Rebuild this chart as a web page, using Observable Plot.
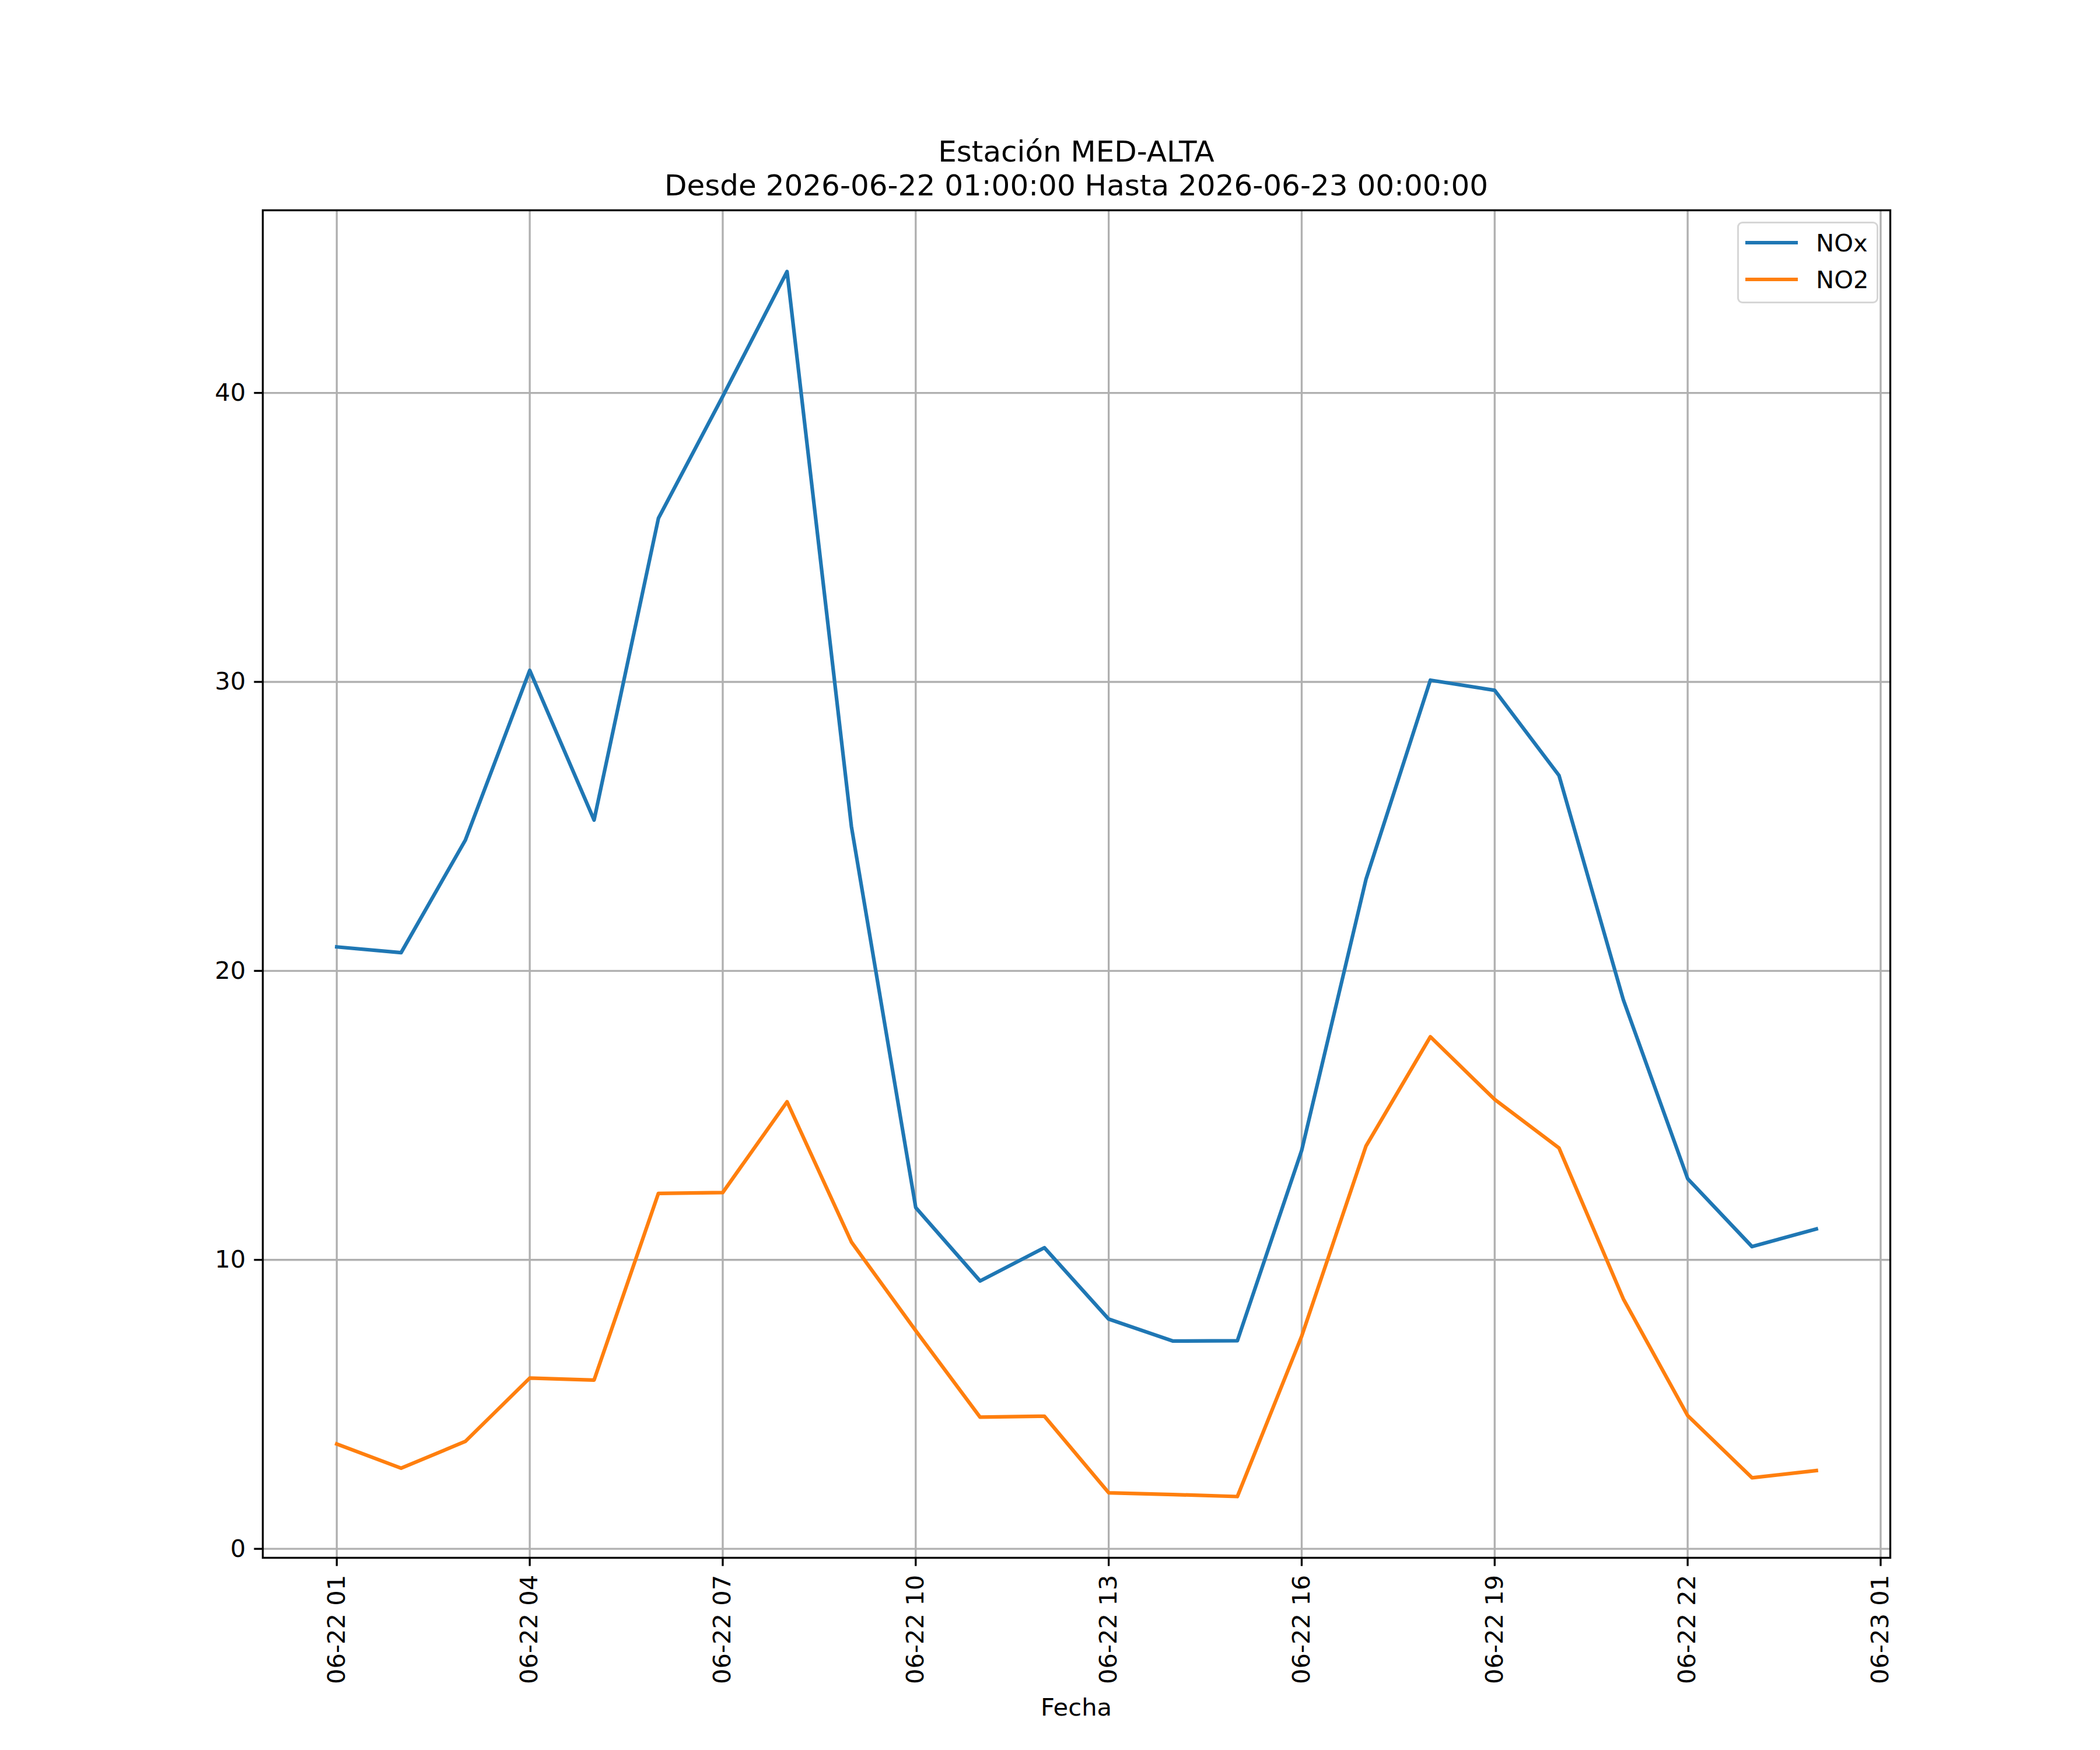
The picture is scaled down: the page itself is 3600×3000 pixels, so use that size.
<!DOCTYPE html>
<html>
<head>
<meta charset="utf-8">
<script src="https://cdn.jsdelivr.net/npm/d3@7"></script>
<script src="https://cdn.jsdelivr.net/npm/@observablehq/plot@0.6"></script>
<style>
  html, body { margin: 0; padding: 0; background: #fff; }
  #wrap { position: relative; width: 3600px; height: 3000px; background: #fff;
          font-family: "DejaVu Sans", sans-serif; color: #000; overflow: hidden; }
  #wrap svg { position: absolute; left: 0; top: 0; }
  .ttl { position: absolute; left: 1845px; transform: translateX(-50%); white-space: nowrap;
         font-size: 50px; line-height: 58px; }
  .xlab { position: absolute; left: 1845px; transform: translateX(-50%); white-space: nowrap;
          font-size: 41.67px; line-height: 48.5px; top: 2903px; }
  #legend { position: absolute; left: 2978px; top: 380px; width: 242px; height: 140px;
            box-sizing: border-box; border: 3.33px solid #d6d6d6; border-radius: 9px; background: #fff; }
  .lgline { position: absolute; left: 2992px; width: 90px; height: 6.25px; }
  .lgtext { position: absolute; left: 3113px; font-size: 41.67px; line-height: 50px; white-space: nowrap; }
</style>
</head>
<body>
<div id="wrap"></div>
<script>
// ---- data ----
const hours = [
  "2026-06-22T01:00", "2026-06-22T02:00", "2026-06-22T03:00", "2026-06-22T04:00",
  "2026-06-22T05:00", "2026-06-22T06:00", "2026-06-22T07:00", "2026-06-22T08:00",
  "2026-06-22T09:00", "2026-06-22T10:00", "2026-06-22T11:00", "2026-06-22T12:00",
  "2026-06-22T13:00", "2026-06-22T14:00", "2026-06-22T15:00", "2026-06-22T16:00",
  "2026-06-22T17:00", "2026-06-22T18:00", "2026-06-22T19:00", "2026-06-22T20:00",
  "2026-06-22T21:00", "2026-06-22T22:00", "2026-06-22T23:00", "2026-06-23T00:00"
];
const noxValues = [
  20.83, 20.63, 24.53, 30.40, 25.22, 35.66, 39.88, 44.20,
  25.00, 11.81, 9.27, 10.42, 7.95, 7.19, 7.20, 13.79,
  23.17, 30.06, 29.71, 26.76, 19.00, 12.81, 10.46, 11.07
];
const no2Values = [
  3.63, 2.79, 3.72, 5.91, 5.84, 12.30, 12.33, 15.47,
  10.62, 7.55, 4.56, 4.59, 1.94, 1.88, 1.81, 7.36,
  13.94, 17.72, 15.55, 13.87, 8.65, 4.61, 2.46, 2.71
];
const seriesNames = ["NOx", "NO2"];
const seriesColors = ["#1f77b4", "#ff7f0e"];
const yTicks = [0, 10, 20, 30, 40];
const xTickStamps = [
  "2026-06-22T01:00", "2026-06-22T04:00", "2026-06-22T07:00", "2026-06-22T10:00",
  "2026-06-22T13:00", "2026-06-22T16:00", "2026-06-22T19:00", "2026-06-22T22:00",
  "2026-06-23T01:00"
];
const titleText = "Estación MED-ALTA";
const subtitleText = "Desde 2026-06-22 01:00:00 Hasta 2026-06-23 00:00:00";
const xLabelText = "Fecha";

// ---- build ----
const parse = s => new Date(s + ":00Z");
const dates = hours.map(parse);
const xTicks = xTickStamps.map(parse);
const seriesValues = [noxValues, no2Values];
const rows = [];
seriesNames.forEach((name, k) => {
  dates.forEach((d, i) => rows.push({date: d, value: seriesValues[k][i], series: name}));
});

const [t0, t1] = d3.extent(dates, d => +d);
const tSpan = t1 - t0;
const xDomain = [new Date(t0 - 0.05 * tSpan), new Date(t1 + 0.05 * tSpan)];
const [v0, v1] = d3.extent(rows, r => r.value);
const vSpan = v1 - v0;
const yDomain = [v0 - 0.05 * vSpan, v1 + 0.05 * vSpan];

const PT = 300 / 72;
const chart = Plot.plot({
  width: 3600,
  height: 3000,
  marginTop: 360,
  marginBottom: 330,
  marginLeft: 450,
  marginRight: 360,
  style: {fontFamily: "DejaVu Sans, sans-serif", fontSize: (10 * PT) + "px", color: "black", background: "white"},
  x: {type: "utc", domain: xDomain},
  y: {domain: yDomain},
  color: {domain: seriesNames, range: seriesColors},
  marks: [
    Plot.gridX(xTicks, {stroke: "#b0b0b0", strokeOpacity: 1, strokeWidth: 0.8 * PT}),
    Plot.gridY(yTicks, {stroke: "#b0b0b0", strokeOpacity: 1, strokeWidth: 0.8 * PT}),
    Plot.line(rows, {x: "date", y: "value", z: "series", stroke: "series", strokeWidth: 1.5 * PT,
                     strokeLinejoin: "round", strokeLinecap: "square"}),
    Plot.frame({stroke: "black", strokeWidth: 0.8 * PT}),
    Plot.axisX(xTicks, {tickSize: 3.5 * PT, tickPadding: 3.5 * PT, tickRotate: -90,
                        tickFormat: d3.utcFormat("%m-%d %H"), strokeWidth: 0.8 * PT, label: null,
                        fontSize: 10 * PT}),
    Plot.axisY(yTicks, {tickSize: 3.5 * PT, tickPadding: 3.5 * PT, strokeWidth: 0.8 * PT, label: null,
                        tickFormat: d3.format("d"), fontSize: 10 * PT})
  ]
});

const wrap = document.getElementById("wrap");
wrap.appendChild(chart);

function addDiv(cls, text, css) {
  const d = document.createElement("div");
  d.className = cls;
  if (text != null) d.textContent = text;
  Object.assign(d.style, css || {});
  wrap.appendChild(d);
  return d;
}
addDiv("ttl", titleText, {top: "231px"});
addDiv("ttl", subtitleText, {top: "289px"});
addDiv("xlab", xLabelText);
addDiv("", null, {}).id = "legend";
const legendY = [416, 479];
seriesNames.forEach((name, k) => {
  addDiv("lgline", null, {top: (legendY[k] - 3.125) + "px", background: seriesColors[k]});
  addDiv("lgtext", name, {top: (legendY[k] - 24) + "px"});
});
</script>
</body>
</html>
